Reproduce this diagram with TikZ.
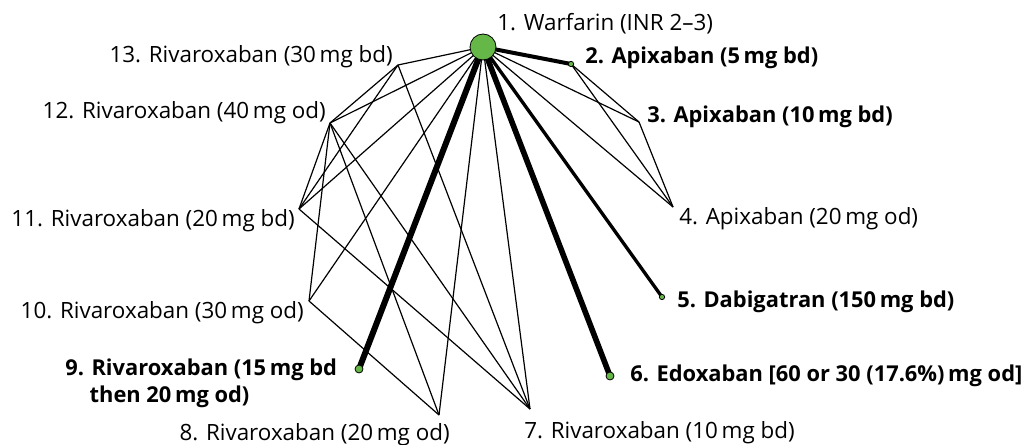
\documentclass[tikz,border=0pt]{standalone}
\usepackage{fontspec}
\setmainfont{Open Sans}
\definecolor{nodegreen}{RGB}{101,183,72}
\begin{document}
\begin{tikzpicture}[x=0.75pt,y=-0.75pt,
  thinedge/.style={line width=0.9pt},
  wideedge/.style={line width=#1},
  trt/.style={circle,draw=black,line width=0.6pt,fill=nodegreen,inner sep=0pt,minimum size=#1},
  lab/.style={font=\fontsize{16.8}{20}\selectfont,inner sep=0pt},
  blab/.style={font=\fontsize{16.4}{20}\selectfont\bfseries,inner sep=0pt}]
\useasboundingbox (0,0) rectangle (1028,445);
% vertex positions
\coordinate (c1) at (483,47);
\coordinate (c2) at (571,64);
\coordinate (c3) at (639,122);
\coordinate (c4) at (673,207);
\coordinate (c5) at (662,297);
\coordinate (c6) at (610,376);
\coordinate (c7) at (530,409);
\coordinate (c8) at (439,415);
\coordinate (c9) at (359,369);
\coordinate (c10) at (309,301);
\coordinate (c11) at (299,209);
\coordinate (c12) at (330,123);
\coordinate (c13) at (398,65);
% thin edges
\foreach \a/\b in {1/3,1/4,2/3,2/4,3/4,
                   1/7,1/11,1/12,1/13,7/11,7/12,7/13,11/12,11/13,12/13,
                   1/8,1/10,8/10,8/12,10/12}
  \draw[thinedge] (c\a) -- (c\b);
% thick edges
\draw[wideedge=3pt] (c1) -- (c2);
\draw[wideedge=2.5pt] (c1) -- (c5);
\draw[wideedge=4.2pt] (c1) -- (c6);
\draw[wideedge=4.5pt] (c1) -- (c9);
% treatment nodes
\node[trt=19.5pt] (v1) at (c1) {};
\node[trt=4pt] (v2) at (c2) {};
\node[trt=4pt] (v5) at (c5) {};
\node[trt=6pt] (v6) at (c6) {};
\node[trt=6pt] (v9) at (c9) {};
% labels
\node[lab,anchor=west] (l1) at (497,24) {1. Warfarin (INR 2–3)};
\node[blab,anchor=west] (l2) at (585,58) {2. Apixaban (5\,mg bd)};
\node[blab,anchor=west] (l3) at (647,117) {3. Apixaban (10\,mg bd)};
\node[lab,anchor=west] (l4) at (679,219) {4. Apixaban (20\,mg od)};
\node[blab,anchor=west] (l5) at (677,302) {5. Dabigatran (150\,mg bd)};
\node[blab,anchor=west] (l6) at (630,376) {6. Edoxaban [60 or 30 (17.6\%)\,mg od]};
\node[lab,anchor=west] (l7) at (524,433) {7. Rivaroxaban (10\,mg bd)};
\node[lab,anchor=east] (l8) at (450,435) {8. Rivaroxaban (20\,mg od)};
\node[blab,anchor=west,align=left] (l9) at (65,383) {9. Rivaroxaban (15\,mg bd\\\phantom{9.\ }then 20\,mg od)};
\node[lab,anchor=east] (l10) at (304,313) {10. Rivaroxaban (30\,mg od)};
\node[lab,anchor=east] (l11) at (295,221) {11. Rivaroxaban (20\,mg bd)};
\node[lab,anchor=east] (l12) at (326,113) {12. Rivaroxaban (40\,mg od)};
\node[lab,anchor=east] (l13) at (393,57) {13. Rivaroxaban (30\,mg bd)};
\end{tikzpicture}
\end{document}
